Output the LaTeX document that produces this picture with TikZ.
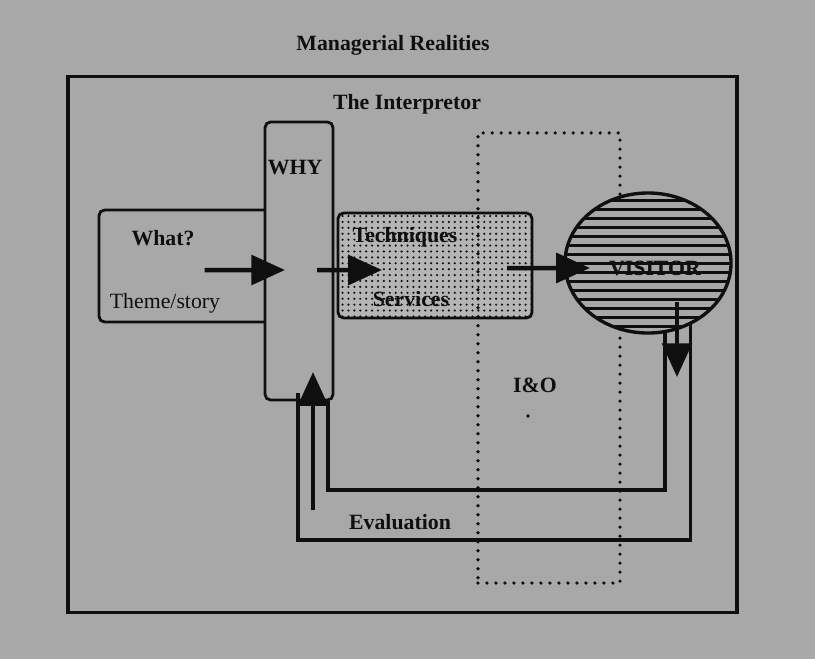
\documentclass[tikz,border=0pt]{standalone}
\usepackage{fontspec}
\setmainfont{Liberation Serif}
\usetikzlibrary{arrows.meta,patterns.meta,shapes.geometric}
\definecolor{paper}{RGB}{168,168,168}
\definecolor{ink}{RGB}{15,15,15}

\begin{document}
\begin{tikzpicture}[
  x=0.025cm, y=-0.025cm,
  box/.style={draw=ink, line width=2pt, rounded corners=4pt, fill=paper, inner sep=0pt},
  txt/.style={font=\fontsize{15.5}{18}\selectfont\bfseries, text=ink, inner sep=0pt},
  plain/.style={font=\fontsize{15.5}{18}\selectfont, text=ink, inner sep=0pt},
  bigarrow/.style={draw=ink, line width=3.2pt, -{Triangle[length=24pt,width=21pt]}},
  pipe/.style={draw=ink, line width=2.3pt},
]
\fill[paper] (0,0) rectangle (815,659);
\useasboundingbox (0,0) rectangle (815,659);

% frame and boxes
\node[draw=ink, line width=2.4pt, minimum width=16.725cm, minimum height=13.4cm, inner sep=0pt] (frame) at (402.5,344.5) {};
\node[box, minimum width=4.275cm, minimum height=2.8cm] (what) at (184.5,266) {};
\node[box, minimum width=1.7cm, minimum height=6.95cm] (why) at (299,261) {};
\node[box, minimum width=4.85cm, minimum height=2.625cm, fill=paper!85!white,
      postaction={pattern={Dots[distance=4.2pt,radius=0.85pt]}, pattern color=ink}] (tech) at (435,265.5) {};
\node[draw=ink, line width=2.6pt, dash pattern=on 0pt off 6.4pt, line cap=round,
      minimum width=3.55cm, minimum height=11.25cm, inner sep=0pt] (io) at (549,358) {};

% visitor and evaluation loop
\node[ellipse, draw=ink, line width=2.4pt, minimum width=4.15cm, minimum height=3.5cm, inner sep=0pt, outer sep=0pt, fill=paper,
      postaction={pattern={Lines[angle=0,distance=6.4pt,line width=2pt]}, pattern color=ink}] (visitor) at (648,263) {};
\coordinate (inL) at (328,490);
\coordinate (outL) at (298,540);
\draw[pipe] (visitor.-76) |- (inL) -- (inL |- why.south);
\draw[pipe] (visitor.-55) |- (outL) -- ([yshift=0.2cm]outL |- why.south);

% arrows
\draw[bigarrow] ([xshift=0.5cm,yshift=-0.1cm]what.center) -- ([xshift=-0.35cm,yshift=-0.225cm]why.center);
\draw[bigarrow] ([xshift=0.45cm,yshift=-0.225cm]why.center) -- ([xshift=-1.325cm,yshift=-0.1125cm]tech.center);
\draw[bigarrow] ([xshift=1.8cm,yshift=-0.0625cm]tech.center) -- ([xshift=-1.45cm,yshift=-0.125cm]visitor.center);
\coordinate (dropstart) at (677,302);
\coordinate (dropend) at (677,377);
\draw[bigarrow] (dropstart) -- (dropend);
\coordinate (evalstart) at (313,510);
\coordinate (evalend) at (313,372);
\draw[bigarrow] (evalstart) -- (evalend);

% labels
\node[txt] (title) at (393,45) {Managerial Realities};
\node[txt] (interp) at (407,104) {The Interpretor};
\node[txt] (whylbl) at (295,168) {WHY};
\node[txt] (whatlbl) at (163,238) {What?};
\node[plain] (theme) at (165,303) {Theme/story};
\node[txt] (techlbl) at (405,237) {Techniques};
\node[txt] (servlbl) at (411,299) {Services};
\node[txt] (vislbl) at (655,268) {VISITOR};
\node[txt] (iolbl) at (535,385) {I\&O};
\fill[ink] (528,416) circle (1.4pt);
\node[txt] (evallbl) at (400,522) {Evaluation};
\end{tikzpicture}
\end{document}
